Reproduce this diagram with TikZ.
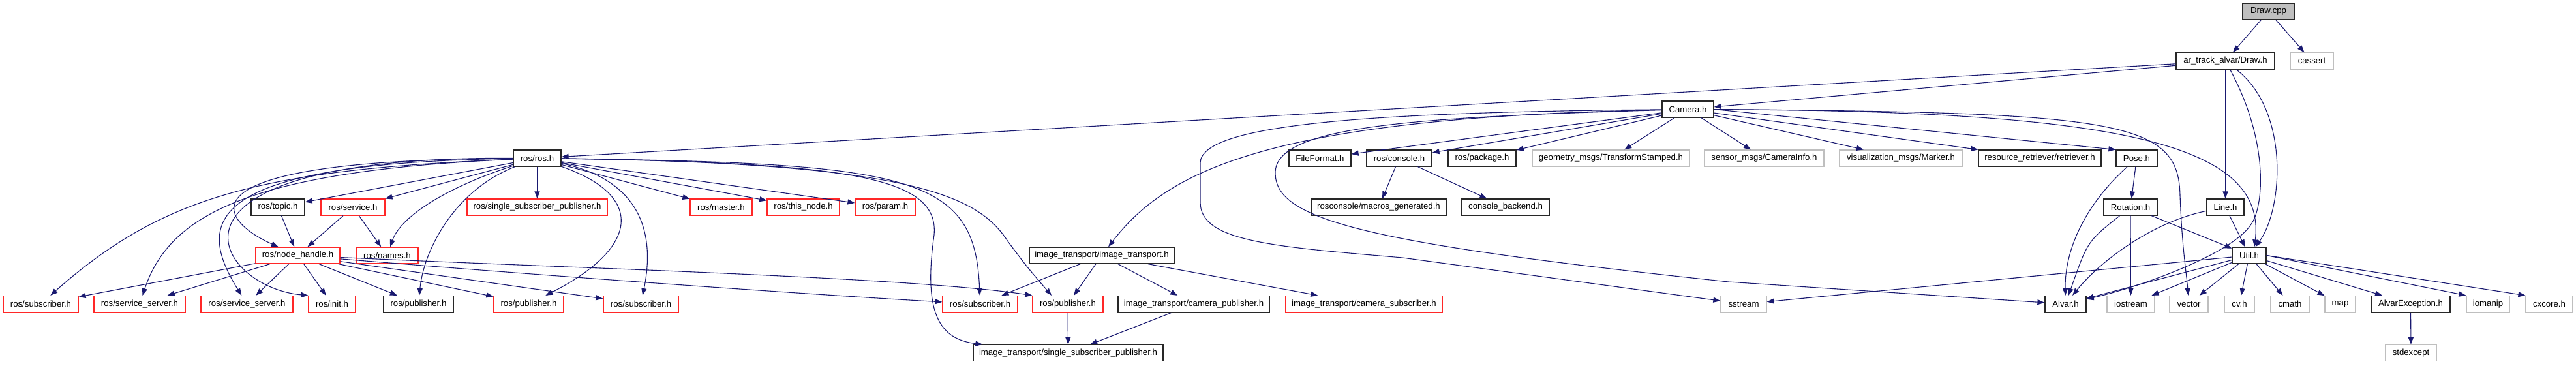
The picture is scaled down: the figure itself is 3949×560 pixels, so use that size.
\documentclass[tikz,border=0pt]{standalone}
\usepackage{fontspec}
\newfontfamily\dfont{Liberation Sans}
\usetikzlibrary{arrows.meta,calc}
\definecolor{edgeblue}{RGB}{25,25,112}
\definecolor{boxred}{RGB}{255,40,40}
\definecolor{boxgray}{RGB}{191,191,191}
\definecolor{boxblack}{RGB}{40,40,40}
\begin{document}
\begin{tikzpicture}[x=1pt,y=-1pt,
  nb/.style={draw=boxblack, line width=1.25pt, fill=white, minimum height=25pt, inner xsep=2pt, inner ysep=0pt, font=\dfont\fontsize{13.2}{15}\selectfont, text=black},
  nr/.style={nb, draw=boxred},
  ng/.style={nb, draw=boxgray},
  dep/.style={draw=edgeblue, line width=1.1pt, -{Triangle[length=11pt,width=8pt]}},
]
\fill[white] (0,0) rectangle (3949,560);
\path[use as bounding box] (0,0) rectangle (3949,560);

% ---- nodes ----
\node[nb, fill=boxgray, minimum width=79pt] (drawcpp) at (3477.5,17.5) {Draw.cpp};
\node[nb, minimum width=151pt] (drawh) at (3411.5,93.5) {ar\_track\_alvar/Draw.h};
\node[ng, minimum width=66pt] (cassert) at (3544,93.5) {cassert};
\node[nb, minimum width=79pt] (cam) at (2587.5,167.5) {Camera.h};

\node[nb, minimum width=73pt] (ros) at (823.5,242.5) {ros/ros.h};
\node[nb, minimum width=95pt] (ffmt) at (2023.5,242.5) {FileFormat.h};
\node[nb, minimum width=100pt] (rcons) at (2145,242.5) {ros/console.h};
\node[nb, minimum width=104pt] (rpkg) at (2272,242.5) {ros/package.h};
\node[ng, minimum width=241pt] (tfs) at (2469.5,242.5) {geometry\_msgs/TransformStamped.h};
\node[ng, minimum width=183pt] (caminfo) at (2704.5,242.5) {sensor\_msgs/CameraInfo.h};
\node[ng, minimum width=188pt] (marker) at (2914,242.5) {visualization\_msgs/Marker.h};
\node[nb, minimum width=188pt] (retr) at (3127,242.5) {resource\_retriever/retriever.h};
\node[nb, minimum width=63pt] (pose) at (3275.5,242.5) {Pose.h};

\node[nb, minimum width=82pt] (topic) at (426,317.5) {ros/topic.h};
\node[nr, minimum width=98pt] (service) at (541,317.5) {ros/service.h};
\node[nr, minimum width=215pt] (rssp) at (823.5,317.5) {ros/single\_subscriber\_publisher.h};
\node[nr, minimum width=95pt] (master) at (1105.5,317.5) {ros/master.h};
\node[nr, minimum width=111pt] (thisnode) at (1231.5,317.5) {ros/this\_node.h};
\node[nr, minimum width=92pt] (param) at (1357,317.5) {ros/param.h};
\node[nb, minimum width=207pt] (macros) at (2113.5,317.5) {rosconsole/macros\_generated.h};
\node[nb, minimum width=134pt] (backend) at (2308,317.5) {console\_backend.h};
\node[nb, minimum width=82pt] (rot) at (3266,317.5) {Rotation.h};
\node[nb, minimum width=57pt] (line) at (3411.5,317.5) {Line.h};

\node[nr, minimum width=129pt] (nh) at (456.5,391.5) {ros/node\_handle.h};
\node[nr, minimum width=95pt] (names) at (593.5,391.5) {ros/names.h};
\node[nb, minimum width=222pt] (itp) at (1689,391.5) {image\_transport/image\_transport.h};
\node[nb, minimum width=52pt] (util) at (3448,391.5) {Util.h};

\node[nr, minimum width=115pt] (subA) at (62.5,466) {ros/subscriber.h};
\node[nr, minimum width=140pt] (ssA) at (214,466) {ros/service\_server.h};
\node[nr, minimum width=141pt] (ssB) at (378.5,466) {ros/service\_server.h};
\node[nr, minimum width=72pt] (init) at (509,466) {ros/init.h};
\node[nb, minimum width=107pt] (pubB) at (641.5,466) {ros/publisher.h};
\node[nr, minimum width=107pt] (pubA) at (810.5,466) {ros/publisher.h};
\node[nr, minimum width=115pt] (subB) at (982.5,466) {ros/subscriber.h};
\node[nr, minimum width=115pt] (subC) at (1502.5,466) {ros/subscriber.h};
\node[nr, minimum width=108pt] (pubC) at (1637,466) {ros/publisher.h};
\node[nb, minimum width=232pt] (campub) at (1830,466) {image\_transport/camera\_publisher.h};
\node[nr, minimum width=240pt] (camsub) at (2091,466) {image\_transport/camera\_subscriber.h};
\node[ng, minimum width=70pt] (sstream) at (2673,466) {sstream};
\node[nb, minimum width=63pt] (alvar) at (3166.5,466) {Alvar.h};
\node[ng, minimum width=73pt] (iostream) at (3266.5,466) {iostream};
\node[ng, minimum width=59pt] (vector) at (3355.5,466) {vector};
\node[ng, minimum width=46pt] (cvh) at (3433,466) {cv.h};
\node[ng, minimum width=59pt] (cmath) at (3510.5,466) {cmath};
\node[ng, minimum width=47pt] (map) at (3587.5,466) {map};
\node[nb, minimum width=121pt] (aexc) at (3695.5,466) {AlvarException.h};
\node[ng, minimum width=66pt] (iomanip) at (3814,466) {iomanip};
\node[ng, minimum width=72pt] (cxcore) at (3908,466) {cxcore.h};

\node[nb, minimum width=291pt] (itssp) at (1637.5,541) {image\_transport/single\_subscriber\_publisher.h};
\node[ng, minimum width=78pt] (stdexc) at (3696,541) {stdexcept};

% ---- edges ----
% Draw.cpp
\draw[dep] (drawcpp) -- (drawh);
\draw[dep] (drawcpp) -- (cassert);
% Draw.h
\draw[dep] (drawh) -- (ros);
\draw[dep] (drawh) -- (cam);
\draw[dep] (drawh) -- (line);
\draw[dep] (drawh) .. controls (3510,170) and (3500,320) .. (util);
\draw[dep] (drawh) .. controls (3480,220) and (3470,320) .. (3450,345) .. controls (3420,390) and (3280,440) .. (alvar);
% Camera.h
\draw[dep] (cam) -- (ffmt);
\draw[dep] (cam) -- (rcons);
\draw[dep] (cam) -- (rpkg);
\draw[dep] (cam) -- (tfs);
\draw[dep] (cam) -- (caminfo);
\draw[dep] (cam) -- (marker);
\draw[dep] (cam) -- (retr);
\draw[dep] (cam.east) -- (pose.north west);
\draw[dep] (cam) .. controls (3250,170) and (3475,220) .. ($(util.north)+(8,0)$);
\draw[dep] (cam) .. controls (3250,172) and (3340,185) .. (3342,300) .. controls (3345,380) and (3352,420) .. (vector);
\draw[dep] (cam) .. controls (1950,180) and (1790,260) .. (itp);
\draw[dep] (cam) .. controls (2100,172) and (1840,190) .. (1840,250) -- (1840,310) .. controls (1840,370) and (1950,378) .. (2150,395) -- (sstream);
\draw[dep] (cam) .. controls (2150,180) and (1955,195) .. (1955,265) .. controls (1955,335) and (2080,372) .. (2650,432) -- (alvar);
% ros/ros.h
\draw[dep] (ros) .. controls (400,260) and (250,300) .. (subA);
\draw[dep] (ros) .. controls (380,262) and (260,330) .. (ssA);
\draw[dep] (ros) .. controls (310,250) and (300,340) .. (ssB);
\draw[dep] (ros) .. controls (200,240) and (330,440) .. (init.north west);
\draw[dep] (ros) .. controls (250,245) and (340,340) .. (nh);
\draw[dep] (ros) -- (topic);
\draw[dep] (ros) -- (service);
\draw[dep] (ros) .. controls (690,285) and (615,330) .. (names);
\draw[dep] (ros) .. controls (700,290) and (650,380) .. (pubB);
\draw[dep] (ros) -- (rssp);
\draw[dep] (ros) .. controls (990,300) and (980,380) .. (pubA);
\draw[dep] (ros) .. controls (1000,280) and (1000,380) .. (subB);
\draw[dep] (ros) -- (master);
\draw[dep] (ros) -- (thisnode);
\draw[dep] (ros) -- (param);
\draw[dep] (ros) .. controls (1400,250) and (1495,270) .. (subC);
\draw[dep] (ros) .. controls (1400,250) and (1500,300) .. (1545,370) .. controls (1575,410) .. ($(pubC.north)+(-25,0)$);
\draw[dep] (ros) .. controls (1300,250) and (1440,270) .. (1432,360) .. controls (1415,480) and (1440,520) .. ($(itssp.north west)+(15,0)$);
% ros/node_handle.h
\draw[dep] (nh) -- (subA);
\draw[dep] (nh) -- (ssA);
\draw[dep] (nh) -- (ssB);
\draw[dep] (nh) -- (init);
\draw[dep] (nh) -- (pubB);
\draw[dep] (nh) -- (pubA);
\draw[dep] (nh) -- (subB);
\draw[dep] (nh) .. controls (900,412) and (1400,425) .. (pubC.north west);
\draw[dep] (nh) .. controls (900,428) and (1300,455) .. (subC);
% topic / service
\draw[dep] (topic) -- (nh);
\draw[dep] (service) -- (nh);
\draw[dep] (service) -- (names);
% image_transport
\draw[dep] (itp) -- (subC);
\draw[dep] (itp) -- (pubC);
\draw[dep] (itp) -- (campub);
\draw[dep] (itp) -- (camsub);
\draw[dep] (pubC) -- (itssp);
\draw[dep] (campub) -- (itssp);
% console
\draw[dep] (rcons) -- (macros);
\draw[dep] (rcons) -- (backend);
% Pose, Rotation, Line
\draw[dep] (pose) .. controls (3190,320) and (3165,390) .. (alvar);
\draw[dep] (pose) -- (rot);
\draw[dep] (rot) .. controls (3200,370) .. (alvar);
\draw[dep] (rot) -- (iostream);
\draw[dep] (rot) -- (util);
\draw[dep] (line) -- (util);
\draw[dep] (line) .. controls (3300,340) and (3220,400) .. (alvar);
% Util
\draw[dep] (util) -- (sstream);
\draw[dep] (util) -- (alvar);
\draw[dep] (util) -- (iostream);
\draw[dep] (util) -- (vector);
\draw[dep] (util) -- (cvh);
\draw[dep] (util) -- (cmath);
\draw[dep] (util) -- (map);
\draw[dep] (util) -- (aexc);
\draw[dep] (util.east) -- (iomanip.north west);
\draw[dep] (util.east) -- (cxcore.north west);
\draw[dep] (aexc) -- (stdexc);
\end{tikzpicture}
\end{document}
